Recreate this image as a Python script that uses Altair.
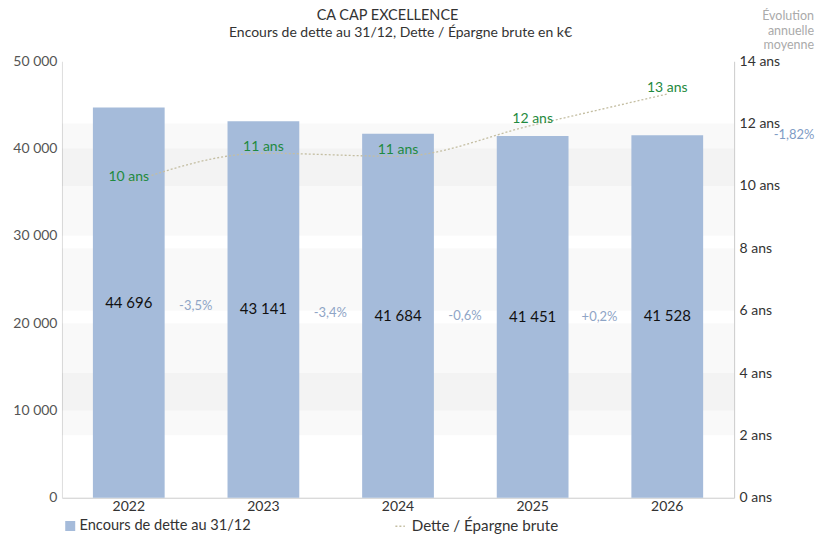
import altair as alt
import pandas as pd

# ---- data ----
years = ["2022", "2023", "2024", "2025", "2026"]
encours = [44696, 43141, 41684, 41451, 41528]
ratio = [10.1, 11.05, 10.95, 11.95, 12.95]
ratio_labels = ["10 ans", "11 ans", "11 ans", "12 ans", "13 ans"]
evolution = ["-3,5%", "-3,4%", "-0,6%", "+0,2%"]
evolution_moyenne = "-1,82%"
left_band_lo = [10000, 30000]
left_band_hi = [20000, 40000]
right_band_lo = [2, 6, 10]
right_band_hi = [4, 8, 12]

TITLE = "CA CAP EXCELLENCE"
SUBTITLE = "Encours de dette au 31/12, Dette / Épargne brute en k€"
HEADER = "Évolution\nannuelle\nmoyenne"
S1 = "Encours de dette au 31/12"
S2 = "Dette / Épargne brute"
FONT = "Lato"
BAR = "#a5bbda"
LINE = "#c4bea2"
GREEN = "#1f8a40"
PCT = "#8fa5c6"

df = pd.DataFrame({
    "year": years, "encours": encours, "ratio": ratio,
    "ratio_label": ratio_labels, "s1": S1, "s2": S2,
})
df_evo = pd.DataFrame({
    "year": years[:-1],
    "evo": evolution,
    "mid": [(encours[i] + encours[i + 1]) / 4 for i in range(len(evolution))],
})
df_moy = pd.DataFrame({"year": [years[-1]], "encours": [encours[-1]], "t": [evolution_moyenne]})
df_lb = pd.DataFrame({"lo": left_band_lo, "hi": left_band_hi})
df_rb = pd.DataFrame({"lo": right_band_lo, "hi": right_band_hi})

xs = alt.X("year:N", sort=years, title=None,
           scale=alt.Scale(paddingInner=0.467, paddingOuter=0.23),
           axis=alt.Axis(labelAngle=0, labelColor="#333", labelPadding=2, ticks=False,
                         domainColor="#ccc"))
yl_scale = alt.Scale(domain=[0, 50000], nice=False)
yr_scale = alt.Scale(domain=[0, 14], nice=False)

band_l = alt.Chart(df_lb).mark_rect(fill="#000", opacity=0.024).encode(
    y=alt.Y("lo:Q", scale=yl_scale, axis=None), y2="hi:Q")
band_r = alt.Chart(df_rb).mark_rect(fill="#000", opacity=0.024).encode(
    y=alt.Y("lo:Q", scale=yr_scale, axis=None), y2="hi:Q")

bars = alt.Chart(df).mark_bar().encode(
    x=xs,
    y=alt.Y("encours:Q", scale=yl_scale, title=None,
            axis=alt.Axis(values=[0, 10000, 20000, 30000, 40000, 50000],
                          labelExpr="replace(format(datum.value, ','), ',', ' ')",
                          grid=False, ticks=False, domainColor="#ddd", labelColor="#555",
                          labelPadding=5)),
    color=alt.Color("s1:N", scale=alt.Scale(domain=[S1], range=[BAR]),
                    legend=alt.Legend(title=None, orient="none", legendX=1, legendY=458,
                                      symbolType="square", symbolSize=100,
                                      symbolStrokeWidth=0, labelFontSize=14.6,
                                      labelColor="#333", labelFont=FONT, labelLimit=400,
                                      labelOffset=2)),
)

bar_text = alt.Chart(df).transform_calculate(
    lab="replace(format(datum.encours, ','), ',', ' ')",
    half="datum.encours / 2",
).mark_text(fontSize=15, color="#111", font=FONT).encode(
    x=alt.X("year:N", sort=years),
    y=alt.Y("half:Q", scale=yl_scale, axis=None),
    text="lab:N",
)

evo_text = alt.Chart(df_evo).mark_text(fontSize=13, color=PCT, font=FONT, dx=67).encode(
    x=alt.X("year:N", sort=years),
    y=alt.Y("mid:Q", scale=yl_scale, axis=None),
    text="evo:N",
)

moy_text = alt.Chart(df_moy).mark_text(fontSize=13, color="#7f9cc5", font=FONT, dx=127).encode(
    x=alt.X("year:N", sort=years),
    y=alt.Y("encours:Q", scale=yl_scale, axis=None),
    text="t:N",
)

header = alt.Chart(df_moy).mark_text(
    fontSize=12.5, color="#aaa", font=FONT, align="right", baseline="top",
    lineBreak="\n", lineHeight=14.5,
).encode(
    x=alt.value(753), y=alt.value(-51),
    text=alt.value(HEADER),
)

title_mark = alt.Chart(df_moy).mark_text(
    fontSize=14.5, color="#333", font=FONT, align="center", baseline="middle",
).encode(x=alt.value(326), y=alt.value(-45), text=alt.value(TITLE))

subtitle_mark = alt.Chart(df_moy).mark_text(
    fontSize=14, color="#333", font=FONT, align="center", baseline="middle",
).encode(x=alt.value(339), y=alt.value(-28), text=alt.value(SUBTITLE))

line = alt.Chart(df).mark_line(interpolate="monotone", strokeDash=[2, 2], strokeWidth=1.3).encode(
    x=alt.X("year:N", sort=years),
    y=alt.Y("ratio:Q", scale=yr_scale, title=None,
            axis=alt.Axis(orient="right", values=[0, 2, 4, 6, 8, 10, 12, 14],
                          labelExpr="datum.value + ' ans'", grid=False, ticks=False,
                          domainColor="#ccc", labelColor="#333", labelPadding=5)),
    stroke=alt.Stroke("s2:N", scale=alt.Scale(domain=[S2], range=[LINE]),
                      legend=alt.Legend(title=None, orient="none", legendX=331, legendY=458,
                                        symbolType="stroke", symbolSize=90,
                                        symbolDash=[2, 2], symbolStrokeWidth=1.5,
                                        labelFontSize=15.2, labelColor="#333",
                                        labelFont=FONT, labelLimit=400)),
)

line_text = alt.Chart(df).mark_text(fontSize=14, color=GREEN, font=FONT, dy=-6).encode(
    x=alt.X("year:N", sort=years),
    y=alt.Y("ratio:Q", scale=yr_scale, axis=None),
    text="ratio_label:N",
)

chart = alt.layer(
    band_l, band_r, bars, bar_text, evo_text, moy_text, header, title_mark, subtitle_mark,
    line, line_text
).resolve_scale(
    y="independent"
).properties(
    width=673, height=437,
    autosize=alt.AutoSizeParams(type="none"),
    padding={"left": 54, "top": 53, "right": 90, "bottom": 44},
    background="white",
).configure_view(stroke=None).configure_axis(
    labelFont=FONT, labelFontSize=14,
)

chart.save("out.html", embed_options={"renderer": "svg", "actions": False})
